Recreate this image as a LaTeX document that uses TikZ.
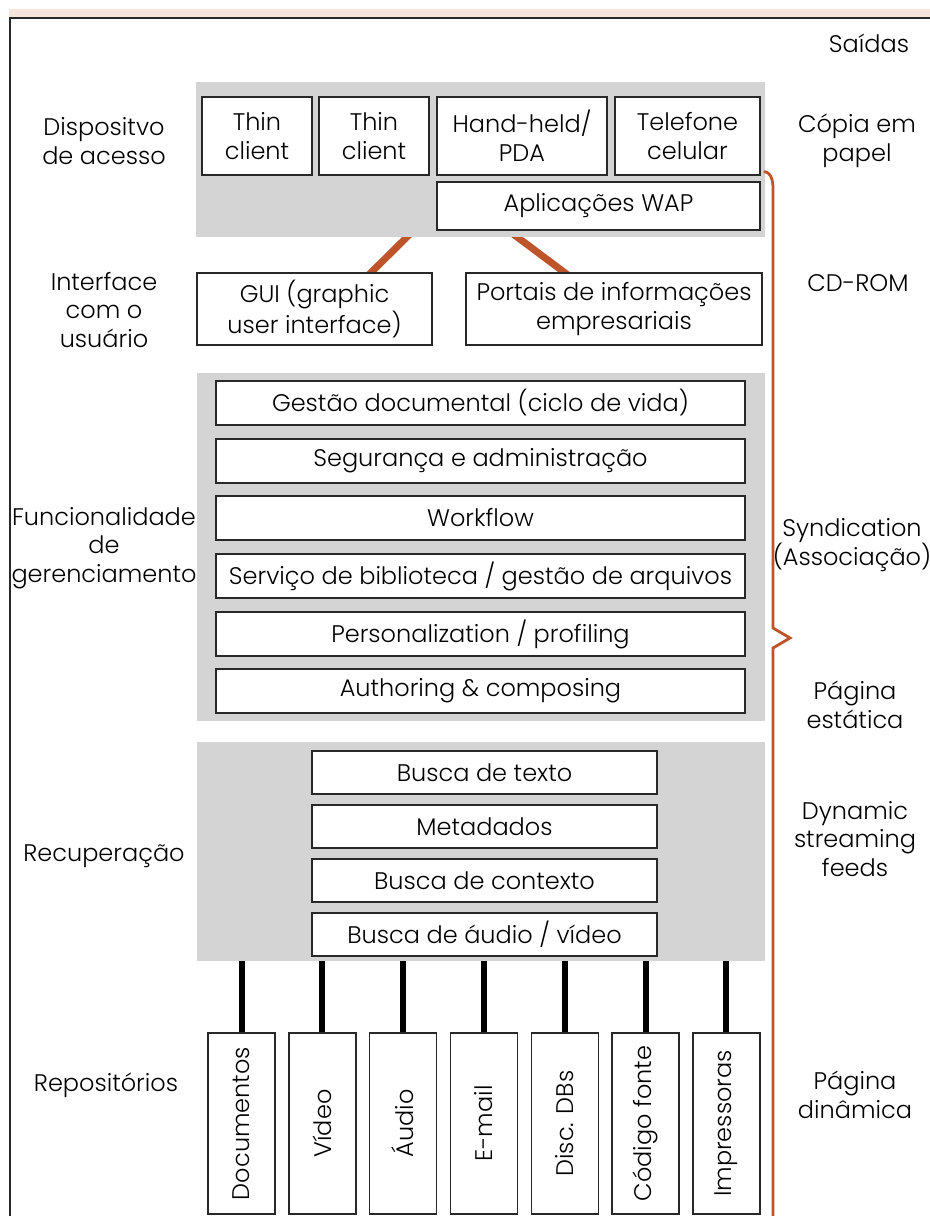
\documentclass[tikz,border=0pt]{standalone}
\usepackage{fontspec}
\setmainfont{Poppins Light}
\usetikzlibrary{calc}
\pgfdeclarelayer{background}
\pgfsetlayers{background,main}

\definecolor{panel}{RGB}{212,212,212}
\definecolor{rust}{RGB}{190,84,42}
\definecolor{band}{RGB}{246,228,221}
\definecolor{edge}{RGB}{40,40,40}

\tikzset{
  txt/.style={font=\fontsize{12}{14.3}\selectfont},
  box/.style={txt, draw=edge, line width=0.7pt, fill=white, inner sep=0pt, align=center},
  panelbox/.style={fill=panel, draw=none, inner sep=0pt},
  lbl/.style={txt, align=center, inner sep=0pt},
  feed/.style={draw=rust, line width=3.5pt, shorten <=-4pt, shorten >=-4pt},
  link/.style={draw=black, line width=3pt, shorten <=-3pt, shorten >=-3pt},
  bracket/.style={draw=rust, line width=1.4pt, line join=miter},
  frame/.style={draw=edge, line width=1pt}
}

% box given by its corners (x1,y1)-(x2,y2), one unit per pixel, y downwards
\newcommand\rbox[7][box]{%
  \node[#1, minimum width={(#5-#3)*0.5pt}, minimum height={(#6-#4)*0.5pt}]
    (#2) at ({(#3+#5)/2},{(#4+#6)/2}) {#7};}

\begin{document}
\begin{tikzpicture}[x=0.5pt, y=-0.5pt]
  \useasboundingbox (0,0) rectangle (930,1216);

  % outer frame
  \fill[band] (9,9) rectangle (930,17);
  \draw[frame] (10,1216) -- (10,18) -- (930,18);

  % access devices
  \rbox[panelbox]{dev}{196}{82}{765}{237}{}
  \rbox{thinA}{202}{97}{312}{175}{Thin\\client}
  \rbox{thinB}{319}{97}{429}{175}{Thin\\client}
  \rbox{pda}{437}{97}{607}{175}{Hand-held/\\PDA}
  \rbox{tel}{615}{97}{760}{175}{Telefone\\celular}
  \rbox{wap}{437}{182}{760}{230}{Aplicações WAP}

  % user interface
  \rbox{gui}{197}{273}{432}{345}{GUI (graphic\\user interface)}
  \rbox{portal}{466}{273}{762}{345}{Portais de informações\\empresariais}

  % management functions
  \rbox[panelbox]{mgmt}{197}{373}{765}{721}{}
  \rbox{m1}{216}{381}{745}{425}{Gestão documental (ciclo de vida)}
  \rbox{m2}{216}{439}{745}{483}{Segurança e administração}
  \rbox{m3}{216}{496}{745}{540}{Workflow}
  \rbox{m4}{216}{554}{745}{598}{Serviço de biblioteca / gestão de arquivos}
  \rbox{m5}{216}{612}{745}{656}{Personalization / profiling}
  \rbox{m6}{216}{669}{745}{713}{Authoring \& composing}

  % retrieval
  \rbox[panelbox]{rec}{197}{742}{765}{961}{}
  \rbox{s1}{312}{751}{657}{794}{Busca de texto}
  \rbox{s2}{312}{805}{657}{848}{Metadados}
  \rbox{s3}{312}{859}{657}{902}{Busca de contexto}
  \rbox{s4}{312}{913}{657}{956}{Busca de áudio / vídeo}

  % repositories
  \foreach \i/\t in {0/Documentos,1/Vídeo,2/Áudio,3/E-mail,4/Disc. DBs,5/Código fonte,6/Impressoras}{
    \pgfmathsetmacro\xl{208+80.8*\i}
    \pgfmathsetmacro\xr{\xl+67}
    \rbox{r\i}{\xl}{1033}{\xr}{1214}{\rotatebox{90}{\t}}
  }

  % connectors
  \begin{pgfonlayer}{background}
    \draw[feed] ($(dev.south west)+(211,0)$) -- ($(gui.north west)+(175,0)$);
    \draw[feed] ($(dev.south west)+(322,0)$) -- ($(portal.north west)+(99,0)$);
    \foreach \i in {0,...,6}{
      \draw[link] (rec.south -| r\i.north) -- (r\i.north);
    }
  \end{pgfonlayer}

  % outputs bracket
  \draw[bracket] ($(tel.south east)+(3,-4)$) to[out=0,in=90] (773,188)
    -- (773,628) -- (790,638) -- (773,648) -- (773,1216);

  % layer names
  \node[lbl] (lDev) at (104,141) {Dispositvo\\de acesso};
  \node[lbl] (lUi) at (104,310) {Interface\\com o\\usuário};
  \node[lbl] (lMgmt) at (104,548) {Funcionalidade\\de\\gerenciamento};
  \node[lbl] (lRec) at (104,856) {Recuperação};
  \node[lbl] (lRep) at (106,1085) {Repositórios};

  % outputs
  \node[lbl] (oOut) at (869,43) {Saídas};
  \node[lbl] (oPaper) at (857,141) {Cópia em\\papel};
  \node[lbl] (oCd) at (858,283) {CD-ROM};
  \node[lbl] (oSyn) at (852,545) {Syndication\\(Associação)};
  \node[lbl] (oStat) at (855,705) {Página\\estática};
  \node[lbl] (oDyn) at (855,839) {Dynamic\\streaming\\feeds};
  \node[lbl] (oPage) at (855,1095) {Página\\dinâmica};
\end{tikzpicture}
\end{document}
